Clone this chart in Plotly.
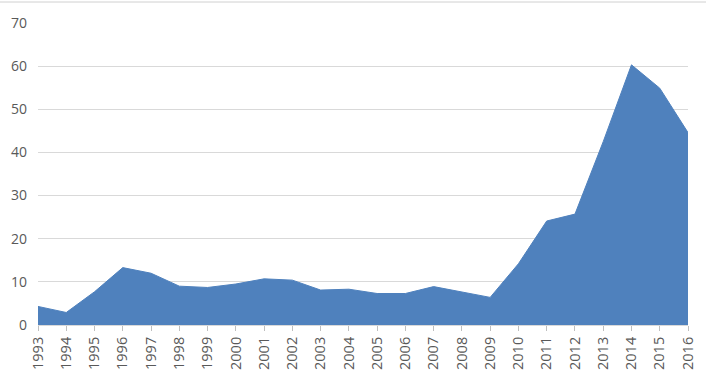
import plotly.graph_objects as go

years = list(range(1993, 2017))
values = [4.3, 2.9, 7.7, 13.3, 12.0, 9.0, 8.7, 9.5, 10.7, 10.4, 8.1, 8.3,
          7.3, 7.3, 8.9, 7.6, 6.4, 14.2, 24.1, 25.7, 42.5, 60.3, 54.9, 44.6]
y_ticks = [0, 10, 20, 30, 40, 50, 60, 70]

fig = go.Figure()
fig.add_trace(go.Scatter(
    x=years, y=values, mode="lines", fill="tozeroy",
    fillcolor="#4F81BD", line=dict(color="#4F81BD", width=1),
    hoverinfo="x+y", showlegend=False,
))

fig.update_layout(
    width=706, height=386,
    margin=dict(l=38, r=18, t=23, b=61, autoexpand=False),
    paper_bgcolor="white", plot_bgcolor="white",
    font=dict(family="Open Sans", size=14, color="#595959"),
    xaxis=dict(
        range=[1993, 2016], tickmode="array", tickvals=years,
        ticktext=[str(y) for y in years], tickangle=-90,
        tickfont=dict(size=14.5),
        showgrid=False, showline=True, linecolor="#d9d9d9", linewidth=1,
        ticks="outside", ticklen=5, tickcolor="#bfbfbf", zeroline=False,
        automargin=False,
    ),
    yaxis=dict(
        range=[0, 70], tickvals=y_ticks, showgrid=True, gridcolor="#d9d9d9",
        gridwidth=1, zeroline=False, showline=False, ticks="", ticklabelstandoff=10,
        automargin=False,
    ),
    shapes=[dict(type="line", xref="paper", yref="paper",
                 x0=-38/650, x1=1+18/650, y0=1+21/302, y1=1+21/302,
                 line=dict(color="#d0d0d0", width=1))],
)

fig.write_html("out.html", config={"displayModeBar": False},
               post_script="document.body.style.margin='0';")
